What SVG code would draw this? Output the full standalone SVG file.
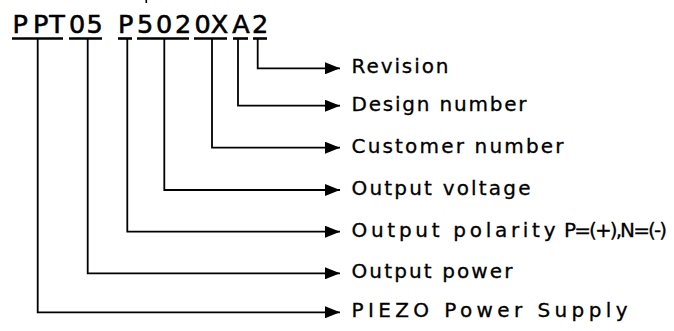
<svg xmlns="http://www.w3.org/2000/svg" width="674" height="331" viewBox="0 0 674 331">
<style>
  .code { font-family: "DejaVu Sans", Verdana, sans-serif; font-size: 25.5px; fill: #000; stroke: #000; stroke-width: 0.6; text-anchor: middle; }
  .lbl { font-family: "DejaVu Sans", Verdana, sans-serif; font-size: 20px; fill: #000; stroke: #000; stroke-width: 0.3; }
  .ul { stroke: #000; stroke-width: 2.6; fill: none; }
  .conn { stroke: #000; stroke-width: 1.8; fill: none; }
</style>
<defs>
  <marker id="arr" viewBox="0 0 15 12" refX="15" refY="6" markerWidth="15" markerHeight="12" markerUnits="userSpaceOnUse" orient="auto">
    <path d="M0,0 L15,6 L0,12 Z" fill="#000"/>
  </marker>
</defs>
<rect width="674" height="331" fill="#fff"/>
<rect x="145.5" y="0" width="1.6" height="3" fill="#000"/>
<g id="code">
  <text class="code" x="20.3 40.8 57 77 94.5 125.7 145 164 183 202.5 219.5 241 260" y="33">PPT05P5020XA2</text>
  <line class="ul" x1="12" y1="38.5" x2="63" y2="38.5"/>
  <line class="ul" x1="69" y1="38.5" x2="102" y2="38.5"/>
  <line class="ul" x1="118" y1="38.5" x2="132" y2="38.5"/>
  <line class="ul" x1="137" y1="38.5" x2="189" y2="38.5"/>
  <line class="ul" x1="194" y1="38.5" x2="227" y2="38.5"/>
  <line class="ul" x1="233" y1="38.5" x2="248" y2="38.5"/>
  <line class="ul" x1="253" y1="38.5" x2="267" y2="38.5"/>
</g>
<g id="connectors">
  <polyline class="conn" points="257.7,39 257.7,68.3 340,68.3" marker-end="url(#arr)"/>
  <polyline class="conn" points="238,39 238,105.7 340,105.7" marker-end="url(#arr)"/>
  <polyline class="conn" points="212,39 212,147.7 340,147.7" marker-end="url(#arr)"/>
  <polyline class="conn" points="164.3,39 164.3,190 340,190" marker-end="url(#arr)"/>
  <polyline class="conn" points="127.3,39 127.3,231.7 340,231.7" marker-end="url(#arr)"/>
  <polyline class="conn" points="87.7,39 87.7,273.3 340,273.3" marker-end="url(#arr)"/>
  <polyline class="conn" points="37.7,39 37.7,312.3 340,312.3" marker-end="url(#arr)"/>
</g>
<g id="label-revision"><text class="lbl" x="351.5" y="73.3" textLength="97" lengthAdjust="spacing">Revision</text></g>
<g id="label-design"><text class="lbl" x="351.5" y="110.7" textLength="175" lengthAdjust="spacing">Design number</text></g>
<g id="label-customer"><text class="lbl" x="351.5" y="152.7" textLength="212" lengthAdjust="spacing">Customer number</text></g>
<g id="label-voltage"><text class="lbl" x="351.5" y="195" textLength="179" lengthAdjust="spacing">Output voltage</text></g>
<g id="label-polarity"><text class="lbl" y="236.7"><tspan x="351.5" textLength="204" lengthAdjust="spacing">Output polarity</tspan> <tspan x="564" textLength="103" lengthAdjust="spacing">P=(+),N=(-)</tspan></text></g>
<g id="label-power"><text class="lbl" x="351.5" y="278.3" textLength="161" lengthAdjust="spacing">Output power</text></g>
<g id="label-piezo"><text class="lbl" x="351.5" y="317.3" textLength="276" lengthAdjust="spacing">PIEZO Power Supply</text></g>
</svg>
